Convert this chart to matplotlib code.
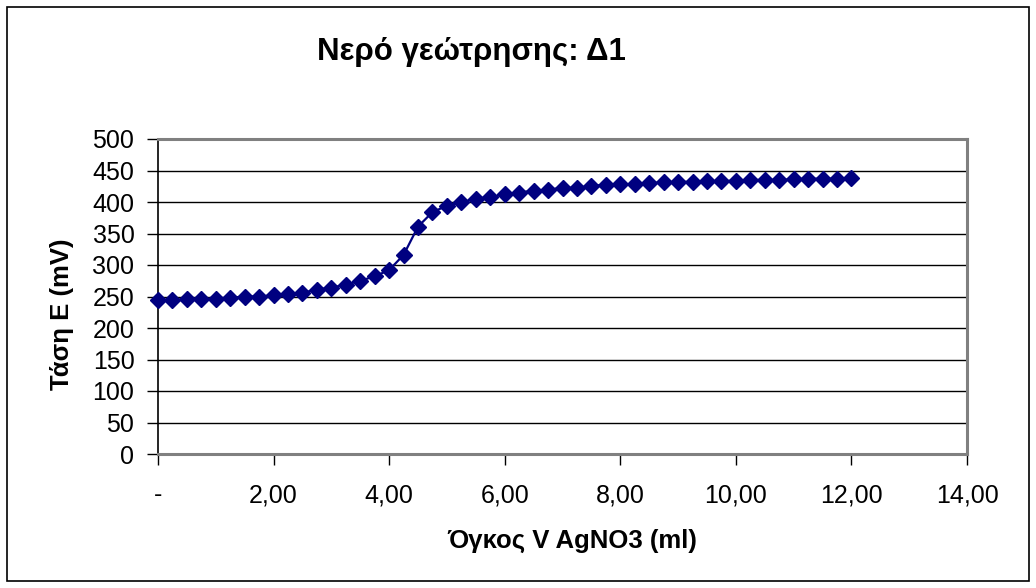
import matplotlib
matplotlib.use("Agg")
import matplotlib.pyplot as plt
from matplotlib.patches import Rectangle
from matplotlib.ticker import FixedLocator, FixedFormatter

# Titration data: volume of AgNO3 added (ml) and measured potential (mV)
volume_ml = [0.00, 0.25, 0.50, 0.75, 1.00, 1.25, 1.50, 1.75, 2.00, 2.25,
             2.50, 2.75, 3.00, 3.25, 3.50, 3.75, 4.00, 4.25, 4.50, 4.75,
             5.00, 5.25, 5.50, 5.75, 6.00, 6.25, 6.50, 6.75, 7.00, 7.25,
             7.50, 7.75, 8.00, 8.25, 8.50, 8.75, 9.00, 9.25, 9.50, 9.75,
             10.00, 10.25, 10.50, 10.75, 11.00, 11.25, 11.50, 11.75, 12.00]
potential_mv = [245, 244, 246, 246, 246, 248, 250, 250, 252, 254,
                256, 261, 264, 269, 275, 282, 292, 316, 361, 384,
                394, 400, 405, 408, 412, 415, 418, 419, 423, 422,
                426, 427, 428, 428, 430, 431, 432, 432, 433, 433,
                434, 435, 435, 435, 436, 437, 437, 437, 438]

x_ticks = [0, 2, 4, 6, 8, 10, 12, 14]
x_tick_labels = ["-", "2,00", "4,00", "6,00", "8,00", "10,00", "12,00", "14,00"]
y_ticks = list(range(0, 501, 50))

title_text = "Νερό γεώτρησης: Δ1"
x_label = "Όγκος V AgNO3 (ml)"
y_label = "Τάση E (mV)"

plt.rcParams["font.family"] = ["Liberation Sans", "DejaVu Sans"]

W, H = 1036, 588
fig = plt.figure(figsize=(W / 100, H / 100), dpi=100)
fig.patch.set_facecolor("white")

# outer chart border
fig.add_artist(Rectangle((7 / W, 7 / H), (1029 - 7) / W, (581 - 7) / H,
                         transform=fig.transFigure, fill=False,
                         edgecolor="black", linewidth=1.2))

left, right, top, bottom = 158, 967, 139, 454
ax = fig.add_axes([left / W, 1 - bottom / H, (right - left) / W, (bottom - top) / H])

ax.plot(volume_ml, potential_mv, color="#000080", linewidth=1.6,
        marker="D", markersize=8.5, markerfacecolor="#000080",
        markeredgecolor="#000080", zorder=3, clip_on=False)

ax.set_xlim(0, 14)
ax.set_ylim(0, 500)

ax.xaxis.set_major_locator(FixedLocator(x_ticks))
ax.xaxis.set_major_formatter(FixedFormatter(x_tick_labels))
ax.set_yticks(y_ticks)

ax.grid(axis="y", color="black", linewidth=1.0)
ax.set_axisbelow(True)

for side in ("top", "right", "bottom"):
    ax.spines[side].set_color("#808080")
    ax.spines[side].set_linewidth(2.2)
ax.spines["left"].set_color("black")
ax.spines["left"].set_linewidth(1.2)

ax.tick_params(axis="both", direction="out", length=8, width=1.0,
               color="black", labelsize=18, labelcolor="black")
ax.tick_params(axis="y", pad=9)
ax.tick_params(axis="x", pad=13)

fig.text(471 / W, 1 - 52 / H, title_text, ha="center", va="center",
         fontsize=22.5, fontweight="bold")
fig.text(572 / W, 1 - 541 / H, x_label, ha="center", va="center",
         fontsize=18.5, fontweight="bold")
fig.text(62 / W, 1 - 314 / H, y_label, ha="center", va="center",
         rotation=90, fontsize=18.5, fontweight="bold")

fig.savefig("out.png", dpi=100, facecolor="white")
